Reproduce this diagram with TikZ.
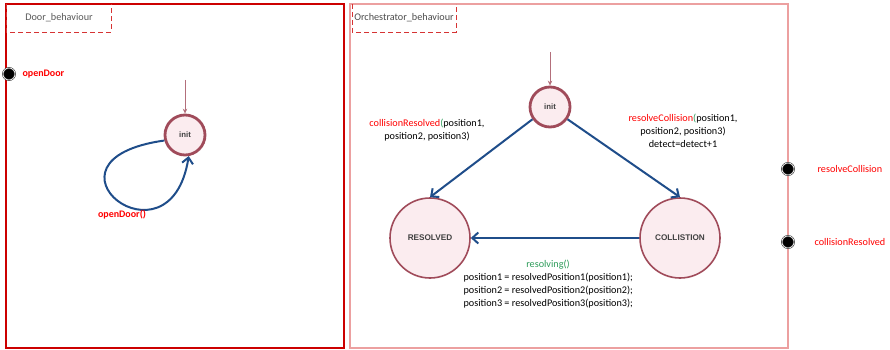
\documentclass[tikz,border=0pt]{standalone}
\usepackage{fontspec}
\setmainfont{Carlito}
\newfontfamily\statefont{Liberation Sans}
\usetikzlibrary{arrows.meta}

\definecolor{framered}{RGB}{204,0,0}
\definecolor{framepink}{RGB}{236,160,160}
\definecolor{stateborder}{RGB}{160,75,90}
\definecolor{statefill}{RGB}{251,236,239}
\definecolor{transblue}{RGB}{31,77,138}
\definecolor{evgreen}{RGB}{46,156,90}

\tikzset{
  state/.style={circle, draw=stateborder, fill=statefill, line width=1.6pt,
    font=\statefont\bfseries\fontsize{8.2}{9}\selectfont, text=black!75},
  initstate/.style={state, minimum size=40pt, line width=2.8pt,
    font=\statefont\bfseries\fontsize{7.8}{9}\selectfont},
  bigstate/.style={state, minimum size=80pt},
  trans/.style={draw=transblue, line width=2pt, -{Straight Barb[length=6pt,width=11pt]}},
  entry/.style={draw=stateborder!80, line width=0.7pt, -{Stealth[length=5pt,width=4.5pt]}},
  port/.style={circle, fill=black, draw=black!80, line width=0.6pt, double=white,
    double distance=0.6pt, minimum size=12pt, inner sep=0pt},
  tab/.style={draw=framered!80, dashed, dash pattern=on 5pt off 3pt, line width=0.7pt},
  lbl/.style={font=\fontsize{10.2}{13}\selectfont, align=center},
  boldlbl/.style={lbl, text=red, font=\fontsize{10}{12}\selectfont\bfseries},
}

\begin{document}
\begin{tikzpicture}[x=1pt,y=-1pt]
  \useasboundingbox (0,0) rectangle (890,350);

 % Door side
  \draw[framered, line width=1.3pt] (6,4) rectangle (344,348);
  \draw[tab] (6,4) |- (111,32) -- (111,4);
  \node[lbl, text=black!65] (doortitle) at (59,18) {Door\_behaviour};
  \node[port] (pdoor) at (9,74) {};
  \node[boldlbl, anchor=west] (pdoorlbl) at (19,74) {openDoor};

  \node[initstate] (dinit) at (185,135) {init};
  \coordinate (dstart) at (185,80);
  \draw[entry] (dstart) -- (dinit.north);
  \draw[trans] (dinit.195) .. controls (25,160) and (170,275) .. (dinit.280);
  \node[boldlbl] (opendoor) at (122,215) {openDoor()};

 % Orchestrator side
  \draw[framepink, line width=1.1pt] (350,4) rectangle (788,348);
  \draw[framepink, line width=2.4pt] (788,4) -- (788,348);
  \draw[tab] (352,4) |- (456,32) -- (456,4);
  \node[lbl, text=black!70] (orchtitle) at (404,18) {Orchestrator\_behaviour};

  \node[initstate] (oinit) at (550,107) {init};
  \node[bigstate] (resolved) at (430,238) {RESOLVED};
  \node[bigstate] (collision) at (680,238) {COLLISTION};
  \coordinate (ostart) at (550,52);
  \draw[entry] (ostart) -- (oinit.north);

  \draw[trans] (oinit.215) -- (resolved.north);
  \draw[trans] (oinit.325) -- (collision.north);
  \draw[trans] (collision.west) -- (resolved.east);

  \node[lbl] (lresolved) at (427,130)
    {{\color{red}collisionResolved}{\color{evgreen}(}position1,\\position2, position3)};
  \node[lbl] (lcollision) at (683,131)
    {{\color{red}resolveCollision}{\color{evgreen}(}position1,\\position2, position3)\\detect=detect+1};
  \node[lbl, text=evgreen] (lresolving) at (548,265) {resolving()};
  \node[lbl, align=left, anchor=north west] (lassign) at (460,270)
    {position1 = resolvedPosition1(position1);\\position2 = resolvedPosition2(position2);\\position3 = resolvedPosition3(position3);};

  % ports on the right edge
  \node[port] (pcoll) at (788,169) {};
  \node[port] (pres) at (788,242) {};
  \node[lbl, anchor=west, text=red] (pcolllbl) at (814,169) {resolveCollision};
  \node[lbl, anchor=west, text=red] (preslbl) at (811,242) {collisionResolved};
\end{tikzpicture}
\end{document}
